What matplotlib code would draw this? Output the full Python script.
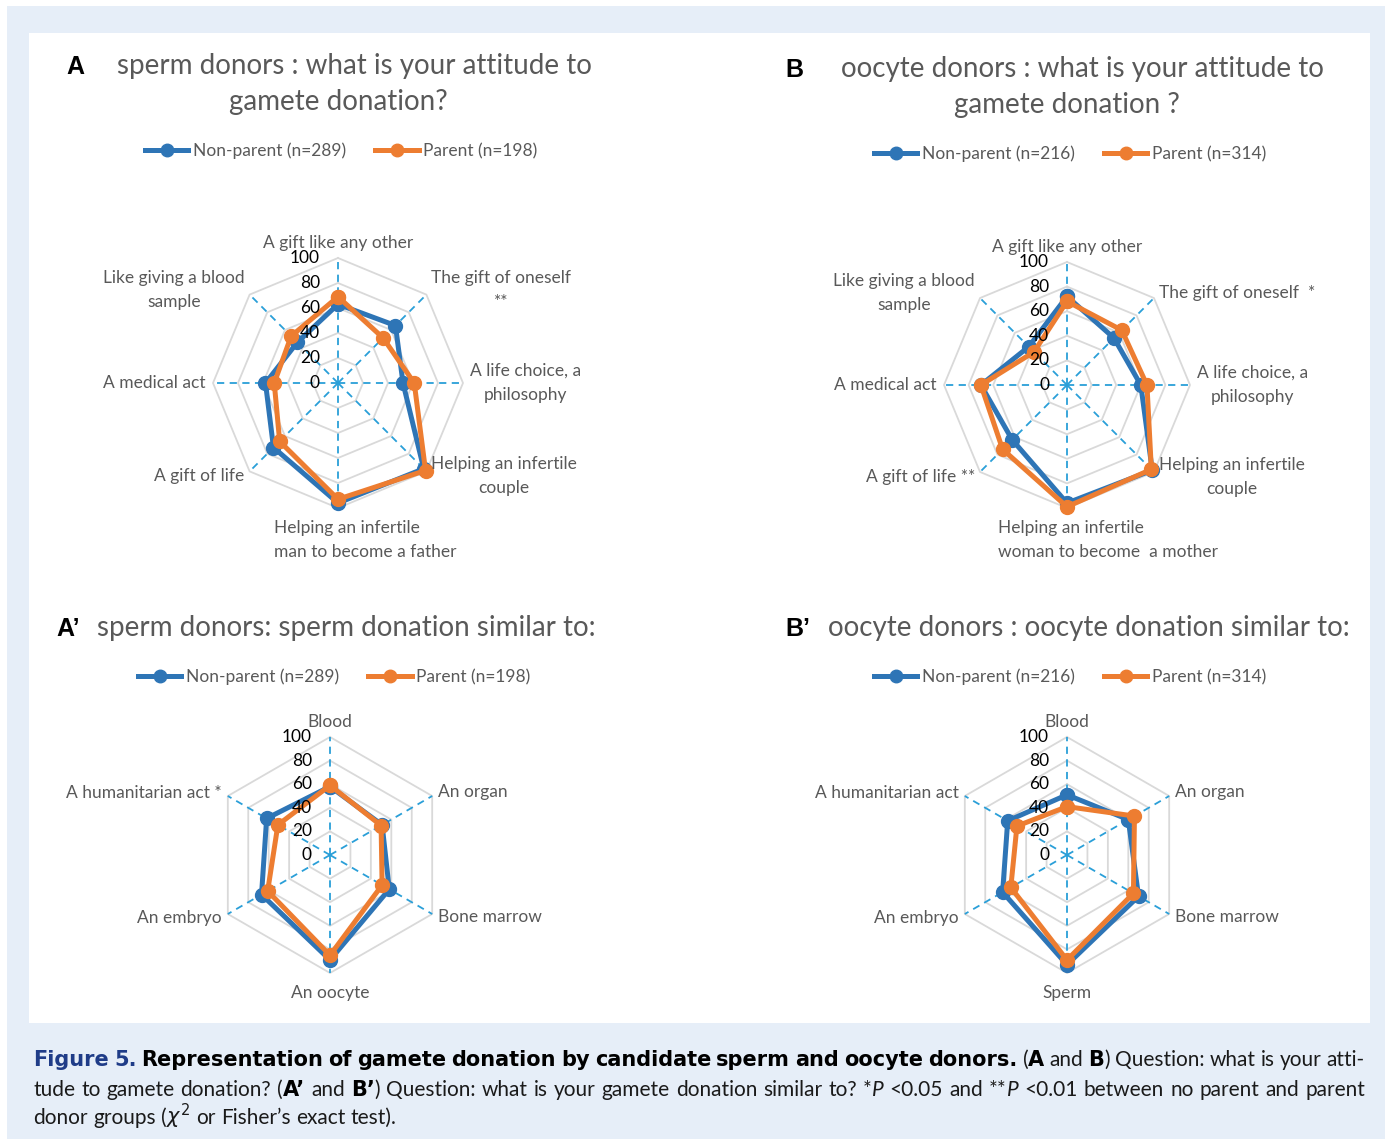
import numpy as np
import matplotlib
matplotlib.use('Agg')
import matplotlib.pyplot as plt
from matplotlib.patches import Rectangle
from matplotlib.lines import Line2D

W, H = 1392, 1141
plt.rcParams['font.family'] = ['Lato', 'DejaVu Sans']
plt.rcParams['mathtext.fontset'] = 'dejavusans'

BLUE = '#2E75B6'
ORANGE = '#ED7D31'
GRID = '#D9D9D9'
SPOKE = '#2A9FD8'
TEXT = '#595959'
PAGE = '#E6EEF8'
CAPTION_BLUE = '#1F3C88'

ticks = [0, 20, 40, 60, 80, 100]

# A: sperm donors, attitude
labels_a = ['A gift like any other', 'The gift of oneself\n**', 'A life choice, a\nphilosophy',
            'Helping an infertile\ncouple', 'Helping an infertile\nman to become a father',
            'A gift of life', 'A medical act', 'Like giving a blood\nsample']
nonparent_a = [63, 65, 52, 97, 96, 73, 58, 46]
parent_a = [69, 51, 61, 99, 93, 66, 51, 53]
legend_a = ['Non-parent (n=289)', 'Parent (n=198)']

# B: oocyte donors, attitude
labels_b = ['A gift like any other', 'The gift of oneself  *', 'A life choice, a\nphilosophy',
            'Helping an infertile\ncouple', 'Helping an infertile\nwoman to become  a mother',
            'A gift of life **', 'A medical act', 'Like giving a blood\nsample']
nonparent_b = [72, 54, 60, 98, 96, 63, 70, 44]
parent_b = [68, 63, 65, 97, 99, 74, 70, 38]
legend_b = ['Non-parent (n=216)', 'Parent (n=314)']

# A': sperm donation similar to
labels_a2 = ['Blood', 'An organ', 'Bone marrow', 'An oocyte', 'An embryo', 'A humanitarian act *']
nonparent_a2 = [58, 51, 58, 89, 67, 62]
parent_a2 = [59, 50, 51, 85, 61, 51]

# B': oocyte donation similar to
labels_b2 = ['Blood', 'An organ', 'Bone marrow', 'Sperm', 'An embryo', 'A humanitarian act']
nonparent_b2 = [51, 60, 70, 93, 63, 58]
parent_b2 = [41, 66, 65, 89, 55, 49]


def fxy(x, y):
    '''pixel position (from top left) to figure fraction'''
    return x / W, 1 - y / H


def radar(fig, cx, cy, R, labels, nonparent, parent, bottom_shift=0):
    ax = fig.add_axes([(cx - R) / W, 1 - (cy + R) / H, 2 * R / W, 2 * R / H], projection='polar')
    ax.set_theta_zero_location('N')
    ax.set_theta_direction(-1)
    ax.set_ylim(0, 100)
    ax.set_axis_off()
    n = len(labels)
    theta = np.arange(n) * 2 * np.pi / n
    closed = np.append(theta, theta[0])
    for r in ticks[1:]:
        ax.plot(closed, [r] * (n + 1), color=GRID, lw=1.3, clip_on=False, zorder=1)
    for t in theta:
        ax.plot([t, t], [0, 100], color=SPOKE, lw=1.3, ls=(0, (4, 3)), clip_on=False, zorder=2)
    for vals, color in [(nonparent, BLUE), (parent, ORANGE)]:
        ax.plot(closed, np.append(vals, vals[0]), color=color, lw=3.6, marker='o', ms=10,
                clip_on=False, zorder=3)
    for r in ticks:
        ax.annotate(str(r), xy=(0, r), xytext=(-18, 0), textcoords='offset pixels',
                    ha='right', va='center', fontsize=12.5, color='black')
    for t, lab in zip(theta, labels):
        s, c = np.sin(t), np.cos(t)
        ha = 'left' if s > 0.1 else 'right' if s < -0.1 else 'center'
        va = 'bottom' if c > 0.9 else 'top' if c < -0.9 else 'center'
        ma = 'center'
        dx, dy = 7 * s, 7 * c
        if c < -0.9:
            ma = 'left'
            dx += bottom_shift
            dy -= 5
        ax.annotate(lab, xy=(t, 100), xytext=(dx, dy), textcoords='offset pixels',
                    ha=ha, va=va, ma=ma, fontsize=12.5, color=TEXT, linespacing=1.6)
    return ax


def legend(fig, cx, cy, labels):
    handles = [Line2D([], [], color=c, lw=3.6, marker='o', ms=9) for c in (BLUE, ORANGE)]
    fig.legend(handles, labels, loc='center', bbox_to_anchor=fxy(cx, cy), ncol=2, frameon=False,
               fontsize=12.5, handlelength=2.5, handletextpad=0.25, columnspacing=1.7,
               labelcolor=TEXT, borderaxespad=0)


def title(fig, letter, lx, lines, baselines, centers=None, left=None):
    fig.text(*fxy(lx, baselines[0]), letter, ha='left', va='baseline', fontsize=18,
             weight='bold', color='black', family=['Liberation Sans', 'DejaVu Sans'])
    if left is not None:
        fig.text(*fxy(left, baselines[0]), lines[0], ha='left', va='baseline', fontsize=20, color=TEXT)
        return
    for line, yb, cx in zip(lines, baselines, centers):
        fig.text(*fxy(cx, yb), line, ha='center', va='baseline', fontsize=20, color=TEXT)


fig = plt.figure(figsize=(W / 100, H / 100), dpi=100)
fig.add_artist(Rectangle(fxy(7, 1139), 1378 / W, 1133 / H, transform=fig.transFigure,
                         facecolor=PAGE, edgecolor='none', zorder=-20))
fig.add_artist(Rectangle(fxy(29, 1023), 1341 / W, 990 / H, transform=fig.transFigure,
                         facecolor='white', edgecolor='none', zorder=-10))

radar(fig, 338, 383, 125, labels_a, nonparent_a, parent_a, bottom_shift=27)
radar(fig, 1067, 385, 123, labels_b, nonparent_b, parent_b, bottom_shift=41)
radar(fig, 330, 855, 118, labels_a2, nonparent_a2, parent_a2)
radar(fig, 1067, 855, 118, labels_b2, nonparent_b2, parent_b2)

legend(fig, 341, 151, legend_a)
legend(fig, 1070, 154, legend_b)
legend(fig, 334, 677, legend_a)
legend(fig, 1070, 677, legend_b)

title(fig, 'A', 66, ['sperm donors : what is your attitude to', 'gamete donation?'], [74, 110],
      centers=[354, 338])
title(fig, 'B', 785, ['oocyte donors : what is your attitude to', 'gamete donation ?'], [77, 113],
      centers=[1082, 1067])
title(fig, 'A’', 56, ['sperm donors: sperm donation similar to:'], [636], left=97)
title(fig, 'B’', 785, ['oocyte donors : oocyte donation similar to:'], [636], left=828)

# caption, set word by word so lines can be justified
BOLD_FAMILY = ['DejaVu Sans']
styles = {
    'fig': dict(weight='bold', color=CAPTION_BLUE, family=BOLD_FAMILY, fontsize=15),
    'b': dict(weight='bold', color='black', family=BOLD_FAMILY, fontsize=15),
    'r': dict(color='#1a1a1a', fontsize=15),
    'i': dict(style='italic', color='#1a1a1a', fontsize=15),
}
caption = [
    ([('Figure 5.', 'fig'),
      (' Representation of gamete donation by candidate sperm and oocyte donors.', 'b'),
      (' (', 'r'), ('A', 'b'), (' and ', 'r'), ('B', 'b'), (') Question: what is your atti-', 'r')],
     1066, True),
    ([('tude to gamete donation? (', 'r'), ('A’', 'b'), (' and ', 'r'), ('B’', 'b'),
      (') Question: what is your gamete donation similar to? *', 'r'), ('P', 'i'),
      (' <0.05 and **', 'r'), ('P', 'i'), (' <0.01 between no parent and parent', 'r')],
     1096, True),
    ([('donor groups (', 'r'), (r'$\chi^2$', 'r'), (' or Fisher’s exact test).', 'r')],
     1124, False),
]
renderer = fig.canvas.get_renderer()


def width_of(t):
    return t.get_window_extent(renderer).width


probe = [fig.text(0, 0, s, **styles['r']) for s in ('x x', 'xx')]
space = width_of(probe[0]) - width_of(probe[1])
for p in probe:
    p.remove()

x_left, x_right = 33, 1365
for pieces, yb, justify in caption:
    words = [[]]
    for text, key in pieces:
        for i, part in enumerate(text.split(' ')):
            if i > 0:
                words.append([])
            if part:
                words[-1].append((part, key))
    words = [w for w in words if w]
    placed = []
    total = 0
    for w in words:
        frags = []
        for part, key in w:
            t = fig.text(0, 0, part, va='baseline', ha='left', **styles[key])
            wd = width_of(t)
            frags.append((t, wd))
            total += wd
        placed.append(frags)
    gap = (x_right - x_left - total) / (len(words) - 1) if justify else space
    x = x_left
    for frags in placed:
        for t, wd in frags:
            t.set_position(fxy(x, yb))
            x += wd
        x += gap

fig.savefig('out.png', dpi=100)
